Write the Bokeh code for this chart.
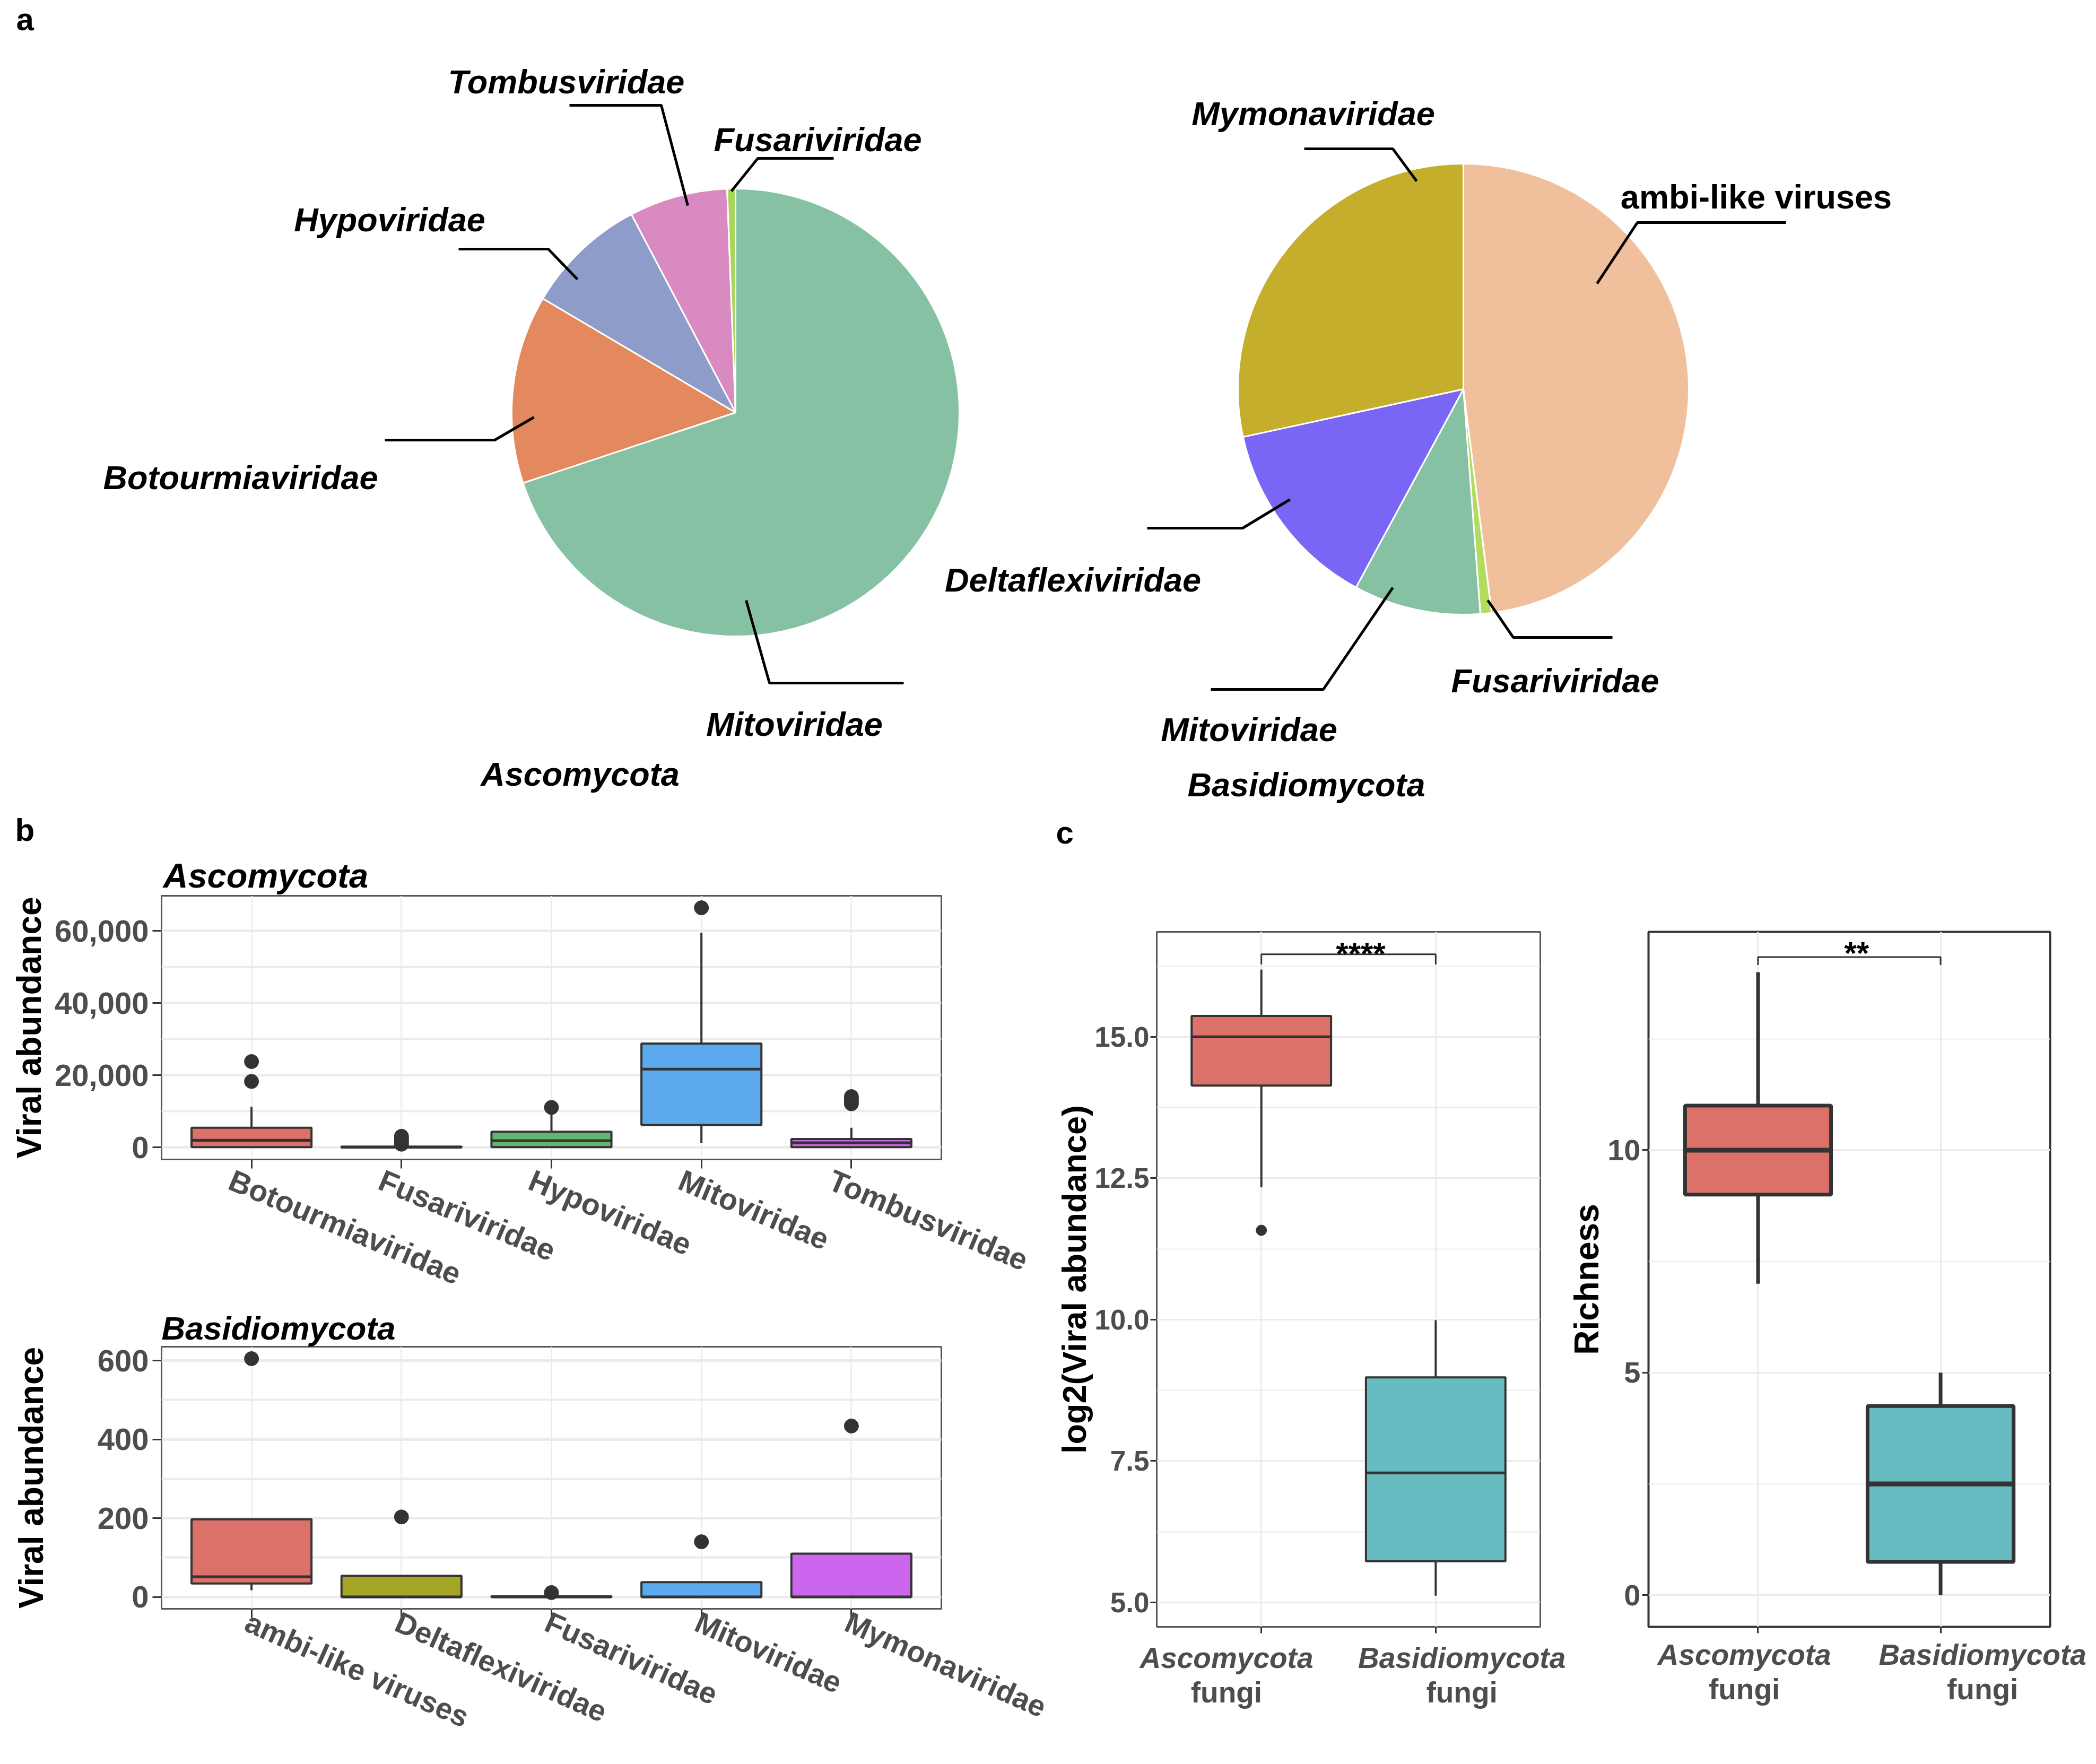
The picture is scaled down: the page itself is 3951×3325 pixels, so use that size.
import numpy as np
from bokeh.plotting import figure
from bokeh.models import ColumnDataSource, Range1d, FixedTicker, Label, NumeralTickFormatter, LinearAxis
from bokeh.layouts import row, column
from bokeh.embed import file_html
from bokeh.resources import INLINE

FONT = "Liberation Sans"
GRID = "#EBEBEB"
INK = "#333333"
TICKTXT = "#4D4D4D"

# ---------------- data ----------------
# panel a : share of viral abundance (percent), clockwise from 12 o'clock
asco_pie_families = ["Mitoviridae", "Botourmiaviridae", "Hypoviridae", "Tombusviridae", "Fusariviridae"]
asco_pie_share = [69.9, 13.6, 8.8, 7.1, 0.6]
asco_pie_colors = ["#87C1A4", "#E4895E", "#8E9CCA", "#D88AC1", "#A8D65A"]

basidio_pie_families = ["ambi-like viruses", "Fusariviridae", "Mitoviridae", "Deltaflexiviridae", "Mymonaviridae"]
basidio_pie_share = [48.0, 0.8, 9.1, 13.7, 28.4]
basidio_pie_colors = ["#EFC09B", "#B3DC5E", "#87C1A4", "#7966F5", "#C4AE2B"]

# panel b : viral abundance box plots
asco_families = ["Botourmiaviridae", "Fusariviridae", "Hypoviridae", "Mitoviridae", "Tombusviridae"]
asco_q1 = [100, 0, 100, 6250, 100]
asco_median = [2000, 60, 1900, 21700, 1300]
asco_q3 = [5450, 250, 4350, 28800, 2350]
asco_lower = [0, 0, 0, 1300, 0]
asco_upper = [11300, 600, 9500, 59500, 5450]
asco_outliers = [[18300, 23800], [900, 1500, 2100, 2700, 3100], [11100], [66400], [12100, 12800, 13600, 14100]]
asco_box_colors = ["#DC716A", "#A5A526", "#62B56F", "#5CA9EE", "#C966E8"]

basidio_families = ["ambi-like viruses", "Deltaflexiviridae", "Fusariviridae", "Mitoviridae", "Mymonaviridae"]
basidio_q1 = [34, 0, 0, 0, 0]
basidio_median = [51, 0, 0, 0, 0]
basidio_q3 = [197, 53.5, 1.5, 37.5, 110]
basidio_lower = [17, 0, 0, 0, 0]
basidio_upper = [197, 53.5, 1.5, 37.5, 110]
basidio_outliers = [[605], [203], [11], [140], [434]]
basidio_box_colors = ["#DC716A", "#A5A526", "#5FB570", "#5AAAF0", "#CC66EE"]

# panel c
phyla = ["Ascomycota", "Basidiomycota"]
phylum_suffix = "fungi"
phylum_colors = ["#DC716A", "#67BCC2"]
log2_q1 = [14.14, 5.73]
log2_median = [15.0, 7.29]
log2_q3 = [15.37, 8.98]
log2_lower = [12.34, 5.12]
log2_upper = [16.19, 9.99]
log2_outliers = [[11.58], []]
log2_signif = "****"

rich_q1 = [9.0, 0.75]
rich_median = [10.0, 2.5]
rich_q3 = [11.0, 4.25]
rich_lower = [7.0, 0.0]
rich_upper = [14.0, 5.0]
rich_outliers = [[], []]
rich_signif = "**"

BASE_FIX = 17  # label baseline correction (px)


# ---------------- helpers ----------------
def add_boxes(p, q1, med, q3, lo, hi, outliers, colors, lw, pt_size, half=0.4):
    n = len(q1)
    x = np.arange(1, n + 1, dtype=float)
    src = ColumnDataSource(dict(x=x, x0=x - half, x1=x + half, q1=q1, med=med, q3=q3,
                                lo=lo, hi=hi, color=colors))
    p.segment(x0="x", y0="q3", x1="x", y1="hi", line_color=INK, line_width=lw, source=src)
    p.segment(x0="x", y0="lo", x1="x", y1="q1", line_color=INK, line_width=lw, source=src)
    p.vbar(x="x", width=2 * half, bottom="q1", top="q3", fill_color="color",
           line_color=INK, line_width=lw, source=src)
    p.segment(x0="x0", y0="med", x1="x1", y1="med", line_color=INK, line_width=lw * 1.3, source=src)
    ox = [i + 1 for i, vals in enumerate(outliers) for v in vals]
    oy = [v for vals in outliers for v in vals]
    if ox:
        p.scatter(x=ox, y=oy, size=pt_size, color=INK)


def style_axes(p, n, yticks, yminor, yfmt, ylabel, tick_px, ylab_px, ylab_standoff,
               lab_standoff, tick_len, outline_w, gmaj_w, gmin_w, gx_w):
    p.xaxis.ticker = FixedTicker(ticks=list(range(1, n + 1)))
    p.xaxis.major_label_overrides = {k: "" for k in range(1, n + 1)}
    p.xaxis.major_label_text_font_size = "2px"
    p.xaxis.major_label_standoff = 0
    p.axis.axis_line_color = None
    p.axis.major_tick_in = 0
    p.axis.major_tick_out = tick_len
    p.axis.major_tick_line_color = INK
    p.axis.major_tick_line_width = 3
    p.axis.minor_tick_line_color = None
    p.yaxis.ticker = FixedTicker(ticks=yticks, minor_ticks=yminor)
    p.yaxis.formatter = NumeralTickFormatter(format=yfmt)
    p.yaxis.major_label_text_font = FONT
    p.yaxis.major_label_text_font_size = tick_px
    p.yaxis.major_label_text_font_style = "bold"
    p.yaxis.major_label_text_color = TICKTXT
    p.yaxis.major_label_standoff = lab_standoff
    p.yaxis.axis_label = ylabel
    p.yaxis.axis_label_text_font = FONT
    p.yaxis.axis_label_text_font_size = ylab_px
    p.yaxis.axis_label_text_font_style = "bold"
    p.yaxis.axis_label_text_color = "black"
    p.yaxis.axis_label_standoff = ylab_standoff
    p.ygrid.grid_line_color = GRID
    p.ygrid.grid_line_width = gmaj_w
    p.ygrid.minor_grid_line_color = GRID
    p.ygrid.minor_grid_line_width = gmin_w
    p.xgrid.grid_line_color = GRID
    p.xgrid.grid_line_width = gx_w
    p.outline_line_color = "#555555"
    p.outline_line_width = outline_w


def label_axis(p, ticks, labels, font_px, style, standoff, orientation="horizontal"):
    ax = LinearAxis(ticker=FixedTicker(ticks=list(ticks)),
                    major_label_overrides=dict(zip(ticks, labels)),
                    major_label_orientation=orientation, major_label_standoff=int(standoff),
                    major_tick_out=0, major_tick_in=0, minor_tick_out=0, minor_tick_in=0,
                    axis_line_color=None, major_tick_line_color=None, minor_tick_line_color=None,
                    major_label_text_font=FONT, major_label_text_font_size=font_px,
                    major_label_text_font_style=style, major_label_text_color=TICKTXT)
    p.add_layout(ax, "below")


def set_title(p, text, size, standoff, offset):
    p.title.text = text
    p.title.text_font = FONT
    p.title.text_font_size = size
    p.title.text_font_style = "bold italic"
    p.title.text_color = "black"
    p.title.align = "left"
    p.title.standoff = standoff
    p.title.offset = offset


# ---------------- panel a (pies) + panel letters ----------------
W, H1 = 3935, 1610


def PX(x):
    return x - 8


def PY(y):
    return 1618 - y


pie = figure(width=W, height=H1, x_range=Range1d(0, W), y_range=Range1d(0, H1),
             toolbar_location=None, output_backend="svg", x_axis_location=None,
             y_axis_location=None, min_border=0, outline_line_color=None)
pie.grid.visible = False


def add_pie(fig, cx, cy, r, shares, colors, names):
    frac = np.asarray(shares, dtype=float)
    frac = frac / frac.sum()
    cum = np.concatenate([[0.0], np.cumsum(frac)])
    src = ColumnDataSource(dict(start=np.pi / 2 - 2 * np.pi * cum[:-1],
                                end=np.pi / 2 - 2 * np.pi * cum[1:],
                                color=colors, name=names))
    fig.wedge(x=cx, y=cy, radius=r, start_angle="start", end_angle="end", direction="clock",
              fill_color="color", line_color="white", line_width=3, source=src)


add_pie(pie, PX(1394), PY(785), 422, asco_pie_share, asco_pie_colors, asco_pie_families)
add_pie(pie, PX(2766), PY(741), 425, basidio_pie_share, basidio_pie_colors, basidio_pie_families)

leaders = [
    [(1081, 206), (1254, 206), (1304, 395)],
    [(1579, 306), (1436, 306), (1386, 368)],
    [(872, 477), (1041, 477), (1096, 534)],
    [(733, 837), (940, 837), (1014, 794)],
    [(1414, 1139), (1458, 1295), (1711, 1295)],
    [(2466, 288), (2633, 288), (2678, 349)],
    [(3374, 427), (3094, 427), (3018, 542)],
    [(2170, 1003), (2350, 1003), (2439, 949)],
    [(2290, 1307), (2502, 1307), (2633, 1115)],
    [(2812, 1139), (2860, 1209), (3047, 1209)],
]
pie.multi_line(xs=[[PX(x) for x, y in L] for L in leaders],
               ys=[[PY(y) for x, y in L] for L in leaders],
               line_color="black", line_width=5)

pie_labels = [
    (asco_pie_families[3], 1075, 178, "bold italic"),
    (asco_pie_families[4], 1549, 287, "bold italic"),
    (asco_pie_families[2], 742, 438, "bold italic"),
    (asco_pie_families[1], 461, 924, "bold italic"),
    (asco_pie_families[0], 1505, 1389, "bold italic"),
    ("Ascomycota", 1101, 1483, "bold italic"),
    (basidio_pie_families[4], 2483, 238, "bold italic"),
    (basidio_pie_families[0], 3318, 395, "bold"),
    (basidio_pie_families[3], 2030, 1117, "bold italic"),
    (basidio_pie_families[2], 2362, 1399, "bold italic"),
    (basidio_pie_families[1], 2939, 1307, "bold italic"),
    ("Basidiomycota", 2470, 1503, "bold italic"),
]
for text, x, y, st in pie_labels:
    pie.add_layout(Label(x=PX(x), y=PY(y - BASE_FIX), text=text, text_align="center",
                         text_baseline="alphabetic", text_font=FONT, text_font_size="63px",
                         text_font_style=st, text_color="black"))

for letter, x, y in [("a", 38, 61), ("b", 36, 1589), ("c", 1998, 1594)]:
    pie.add_layout(Label(x=PX(x), y=PY(y - BASE_FIX), text=letter, text_align="left",
                         text_baseline="alphabetic", text_font=FONT, text_font_size="60px",
                         text_font_style="bold", text_color="black"))

# ---------------- panel b ----------------
BW = 1987
# top: figure y 1618..2474, frame x 312..1782, y 1694..2193
bt = figure(width=BW, height=856, x_range=Range1d(0.4, 5.6), y_range=Range1d(-3320, 69720),
            toolbar_location=None, output_backend="svg",
            min_border_left=304, min_border_right=213, min_border_top=76, min_border_bottom=281)
style_axes(bt, 5, [0, 20000, 40000, 60000], [10000, 30000, 50000], "0,0", "Viral abundance",
           "58px", "64px", 9, 7, 17, 3, 5, 4, 2.5)
add_boxes(bt, asco_q1, asco_median, asco_q3, asco_lower, asco_upper, asco_outliers,
          asco_box_colors, 4, 27)
set_title(bt, "Ascomycota", "65px", 3, 3)
label_axis(bt, [k + 1 - 0.14 for k in range(5)], asco_families, "57px", "bold", 19, -0.40)

# bottom: figure y 2474..3317, frame x 312..1782, y 2545..3040
bb = figure(width=BW, height=843, x_range=Range1d(0.4, 5.6), y_range=Range1d(-30.25, 635.25),
            toolbar_location=None, output_backend="svg",
            min_border_left=304, min_border_right=213, min_border_top=71, min_border_bottom=277)
style_axes(bb, 5, [0, 200, 400, 600], [100, 300, 500], "0", "Viral abundance",
           "58px", "64px", 86, 7, 17, 3, 5, 4, 2.5)
add_boxes(bb, basidio_q1, basidio_median, basidio_q3, basidio_lower, basidio_upper,
          basidio_outliers, basidio_box_colors, 4, 27)
set_title(bb, "Basidiomycota", "62px", 1, 0)
label_axis(bb, [k + 1 - 0.03 for k in range(5)], basidio_families, "56px", "bold", 5, -0.419)

# ---------------- panel c ----------------
# left: figure x 1995..2960 / y 1618..3317, frame x 2183..2911, y 1764..3074
cl = figure(width=965, height=1699, x_range=Range1d(0.4, 2.6), y_range=Range1d(4.568, 16.857),
            toolbar_location=None, output_backend="svg",
            min_border_left=188, min_border_right=49, min_border_top=146, min_border_bottom=243)
style_axes(cl, 2, [5, 7.5, 10, 12.5, 15], [6.25, 8.75, 11.25, 13.75, 16.25], "0.0",
           "log2(Viral abundance)", "53px", "63px", 0, 2, 12, 3, 3, 2, 3)
add_boxes(cl, log2_q1, log2_median, log2_q3, log2_lower, log2_upper, log2_outliers,
          phylum_colors, 4, 20)
cl.line(x=[1, 1, 2, 2], y=[16.28, 16.46, 16.46, 16.28], line_color=INK, line_width=3)
cl.add_layout(Label(x=1.57, y=16.47, text=log2_signif, text_align="center",
                    text_baseline="alphabetic", text_font=FONT, text_font_size="60px",
                    text_font_style="bold", text_color="black"))
cl_ticks = [0.8, 2.15]
label_axis(cl, cl_ticks, phyla, "55px", "bold italic", 15)
label_axis(cl, cl_ticks, [phylum_suffix] * 2, "55px", "bold", 0)

# right: figure x 2960..3943, frame x 3113..3872, y 1762..3080
cr = figure(width=983, height=1699, x_range=Range1d(0.4, 2.6), y_range=Range1d(-0.711, 14.905),
            toolbar_location=None, output_backend="svg",
            min_border_left=153, min_border_right=71, min_border_top=144, min_border_bottom=237)
style_axes(cr, 2, [0, 5, 10], [2.5, 7.5, 12.5], "0", "Richness",
           "56px", "64px", 0, 3, 12, 4, 3, 2, 3)
cr.outline_line_color = INK
add_boxes(cr, rich_q1, rich_median, rich_q3, rich_lower, rich_upper, rich_outliers,
          phylum_colors, 7, 20)
cr.line(x=[1, 1, 2, 2], y=[14.16, 14.34, 14.34, 14.16], line_color=INK, line_width=3)
cr.add_layout(Label(x=1.54, y=14.43, text=rich_signif, text_align="center",
                    text_baseline="alphabetic", text_font=FONT, text_font_size="60px",
                    text_font_style="bold", text_color="black"))
cr_ticks = [0.925, 2.23]
label_axis(cr, cr_ticks, phyla, "55px", "bold italic", 9)
label_axis(cr, cr_ticks, [phylum_suffix] * 2, "55px", "bold", 0)

layout = column(pie, row(column(bt, bb), cl, cr))
html = file_html(layout, INLINE, "Viral families in fungi")
open("out.html", "w").write(html)
